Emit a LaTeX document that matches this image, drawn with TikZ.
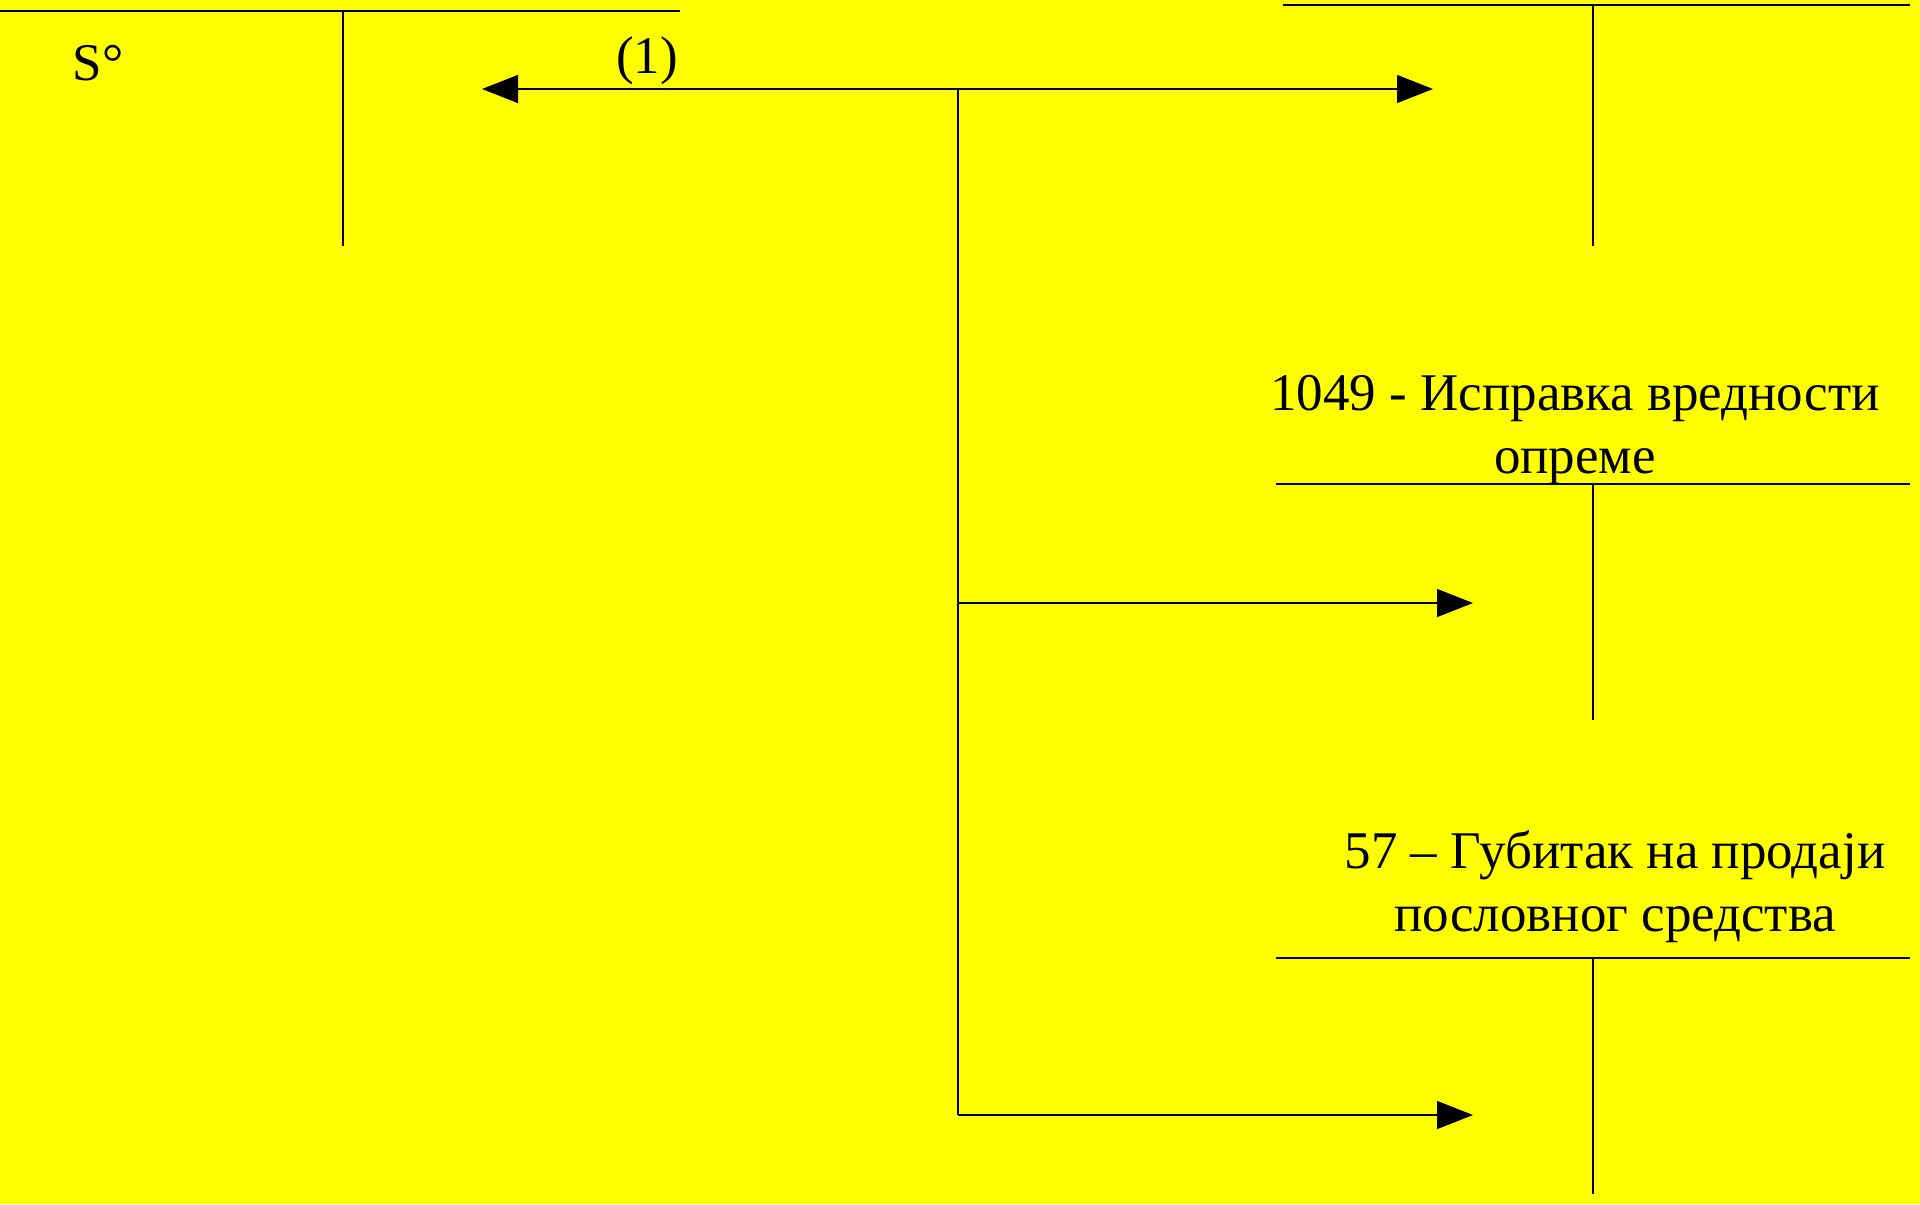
\documentclass[tikz,border=0pt]{standalone}
\usepackage{fontspec}
\setmainfont{Liberation Serif}
\usetikzlibrary{arrows.meta}
\definecolor{bgyellow}{HTML}{FFFF00}
\tikzset{
  tline/.style={draw=black,line width=0.6pt},
  flow/.style={draw=black,line width=0.6pt,-{Triangle[length=18pt,width=14pt]}},
  flowboth/.style={draw=black,line width=0.6pt,{Triangle[length=18pt,width=14pt]}-{Triangle[length=18pt,width=14pt]}},
  lbl/.style={inner sep=0pt,font=\fontsize{26.5}{31.5}\selectfont,align=center}
}
\begin{document}
\begin{tikzpicture}[x=0.5pt,y=-0.5pt]
\path[fill=bgyellow] (0,0) rectangle (1920,1204);
\useasboundingbox (0,0) rectangle (1920,1204);
% top-left account
\coordinate (tlL) at (0,11);
\coordinate (tlR) at (680,11);
\coordinate (tlT) at (343,11);
\coordinate (tlB) at (343,246);
\draw[tline] (tlL) -- (tlR);
\draw[tline] (tlT) -- (tlB);
\node[lbl] (s0) at (98,63) {S°};
% top-right account
\coordinate (trL) at (1283,5);
\coordinate (trR) at (1910,5);
\coordinate (trT) at (1593,5);
\coordinate (trB) at (1593,246);
\draw[tline] (trL) -- (trR);
\draw[tline] (trT) -- (trB);
% middle-right account
\node[lbl] (acc1049) at (1575,430) {1049 - Исправка вредности\\опреме};
\coordinate (mrL) at (1276,484);
\coordinate (mrR) at (1910,484);
\coordinate (mrT) at (1593,484);
\coordinate (mrB) at (1593,720);
\draw[tline] (mrL) -- (mrR);
\draw[tline] (mrT) -- (mrB);
% bottom-right account
\node[lbl] (acc57) at (1615,887) {57 – Губитак на продаји\\пословног средства};
\coordinate (brL) at (1276,958);
\coordinate (brR) at (1910,958);
\coordinate (brT) at (1593,958);
\coordinate (brB) at (1593,1194);
\draw[tline] (brL) -- (brR);
\draw[tline] (brT) -- (brB);
% connectors
\coordinate (aL) at (482,89);
\coordinate (aR) at (1433,89);
\coordinate (trunkTop) at (958,89);
\coordinate (trunkMid) at (958,603);
\coordinate (trunkBot) at (958,1115);
\coordinate (tMid) at (1473,603);
\coordinate (tBot) at (1473,1115);
\draw[flowboth] (aL) -- (aR);
\node[lbl] (one) at (647,61) {(1)};
\draw[tline] (trunkTop) -- (trunkBot);
\draw[flow] (trunkMid) -- (tMid);
\draw[flow] (trunkBot) -- (tBot);
\end{tikzpicture}
\end{document}
